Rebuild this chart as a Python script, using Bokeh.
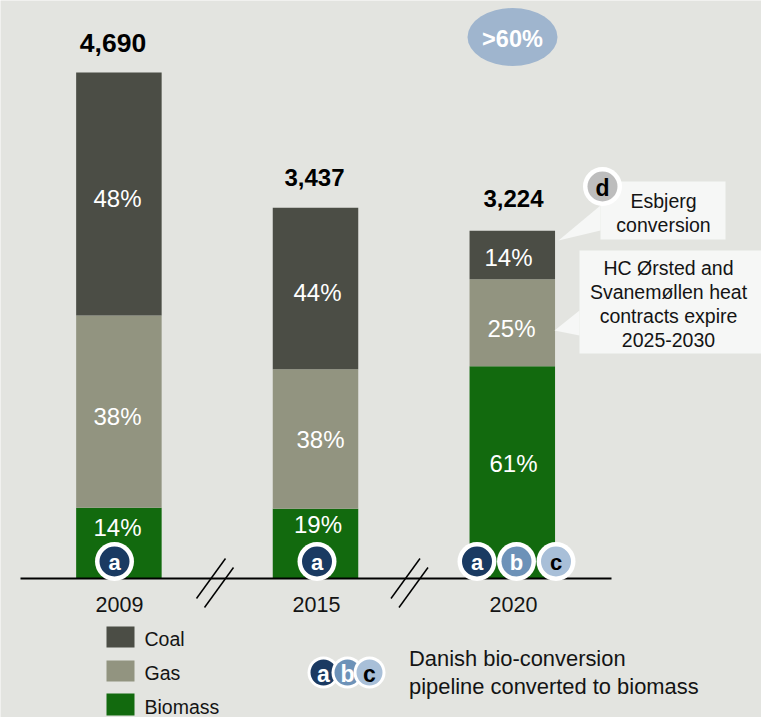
from bokeh.embed import file_html
from bokeh.models import ColumnDataSource, Range1d
from bokeh.plotting import figure
from bokeh.resources import INLINE
from bokeh.core.properties import value

# Heat generation by fuel
years = ["2009", "2015", "2020"]
totals = [4690, 3437, 3224]
total_labels = ["4,690", "3,437", "3,224"]
biomass_share = [14, 19, 61]
gas_share = [38, 38, 25]
coal_share = [48, 44, 14]

fuels = ["Coal", "Gas", "Biomass"]
callout_esbjerg = ["Esbjerg", "conversion"]
callout_contracts = ["HC Ørsted and", "Svanemøllen heat", "contracts expire", "2025-2030"]
pipeline_note = ["Danish bio-conversion", "pipeline converted to biomass"]

BG = "#E3E4E0"
COAL = "#4B4D45"
GAS = "#929480"
BIOMASS = "#126A0E"
NAVY = "#1A3A62"
MID_BLUE = "#6D92B8"
PALE_BLUE = "#A8BFD8"
GREY_BADGE = "#BDBDBD"
OVAL = "#9FB5CE"
NOTE = "#F6F7F6"
INK = "#141414"
FONT = value("Liberation Sans")

W, H = 761, 717
BASE_PX, TOP_PX = 578, 72
UNITS_PER_PX = max(totals) / (BASE_PX - TOP_PX)

p = figure(
    width=W, height=H, output_backend="svg", toolbar_location=None,
    x_range=Range1d(0, W),
    y_range=Range1d(-(H - BASE_PX) * UNITS_PER_PX, BASE_PX * UNITS_PER_PX),
    min_border=0, outline_line_color=None, background_fill_color=BG,
    border_fill_color=BG,
)
p.axis.visible = False
p.grid.visible = False
# Annotations are laid out on a top-down pixel scale sharing the same canvas.
p.extra_y_ranges = {"page": Range1d(H, 0)}

bar_x = [118.4, 315.0, 511.8]
BAR_W = 85.5

# Stacked bars: each segment is its share of the year's total.
bottoms = [0.0, 0.0, 0.0]
for shares, colour in ((biomass_share, BIOMASS), (gas_share, GAS), (coal_share, COAL)):
    tops = []
    for i, total in enumerate(totals):
        whole = biomass_share[i] + gas_share[i] + coal_share[i]
        tops.append(bottoms[i] + total * shares[i] / whole)
    src = ColumnDataSource(dict(x=bar_x, bottom=bottoms, top=tops))
    p.vbar(x="x", bottom="bottom", top="top", width=BAR_W, source=src,
           fill_color=colour, line_color=None)
    bottoms = tops


def label(x, y, text, size, colour=INK, style="normal", align="center"):
    p.text([x], [y], text=[text], y_range_name="page", text_font=FONT,
           text_font_size=f"{size}px", text_color=colour, text_font_style=style,
           text_align=align, text_baseline="middle")


def badge(x, y, letter, fill, ink="white", outer=19.5, inner=15, size=22):
    p.circle([x], [y], radius=outer, y_range_name="page", fill_color="white", line_color=None)
    p.circle([x], [y], radius=inner, y_range_name="page", fill_color=fill, line_color=None)
    label(x, y + 1, letter, size, ink, "bold")


# Baseline and axis breaks
p.line([20, 611], [578, 578], y_range_name="page", line_color="black", line_width=2)
for dx in (0, 194.5):
    p.line([196 + dx, 225 + dx], [598, 558], y_range_name="page", line_color="black", line_width=1.5)
    p.line([204 + dx, 233 + dx], [607, 567], y_range_name="page", line_color="black", line_width=1.5)

# Share labels inside the segments, per year: biomass, gas, coal
share_x = [[117, 117, 117], [317.5, 320, 317], [513, 511, 508]]
share_y = [[527, 416, 198], [524, 439, 292], [463, 328, 257]]
for i in range(3):
    for j, shares in enumerate((biomass_share, gas_share, coal_share)):
        label(share_x[i][j], share_y[i][j], f"{shares[i]}%", 24, "white")

# Totals and years
total_x = [112.5, 314, 513]
total_y = [42.5, 177, 198]
total_size = [26.5, 24, 24]
year_x = [119, 316, 513]
for i in range(3):
    label(total_x[i], total_y[i], total_labels[i], total_size[i], "black", "bold")
    label(year_x[i], 604, years[i], 21.5)

# Target oval
p.ellipse([512], [36.5], width=90, height=58, y_range_name="page", fill_color=OVAL, line_color=None)
label(512, 38, ">60%", 23.5, "white", "bold")

# Callouts
p.patch([600, 558, 600], [205, 240, 230], y_range_name="page", fill_color=NOTE, line_color=None)
p.quad(left=[600], right=[725], top=[181], bottom=[239], y_range_name="page", fill_color=NOTE, line_color=None)
for line, y in zip(callout_esbjerg, (200, 224)):
    label(663, y, line, 19.5)
p.patch([579, 554, 579], [310, 330, 335], y_range_name="page", fill_color=NOTE, line_color=None)
p.quad(left=[579], right=[761], top=[250], bottom=[353], y_range_name="page", fill_color=NOTE, line_color=None)
for line, y in zip(callout_contracts, (267, 291, 315, 339)):
    label(668, y, line, 19.5)
badge(602, 186, "d", GREY_BADGE, "black", size=23)

# Pipeline badges on the bars
badge(114, 561, "a", NAVY)
badge(316.5, 561, "a", NAVY)
badge(476.5, 561, "a", NAVY)
badge(516, 561, "b", MID_BLUE)
badge(555.5, 561, "c", PALE_BLUE, "black")

# Legend
swatch_tops = [626, 660, 693]
swatch_bottoms = [647, 681, 715]
for name, colour, top, bottom, y in zip(fuels, (COAL, GAS, BIOMASS), swatch_tops, swatch_bottoms, (638, 672, 706)):
    p.quad(left=[106], right=[134], top=[top], bottom=[bottom], y_range_name="page", fill_color=colour, line_color=None)
    label(144, y, name, 19.5, align="left")

badge(323, 672, "a", NAVY, outer=16, inner=13, size=23)
badge(347, 672, "b", MID_BLUE, outer=16, inner=13, size=23)
badge(369, 672, "c", PALE_BLUE, "black", outer=16, inner=13, size=23)
for line, y in zip(pipeline_note, (658, 686)):
    label(408.5, y, line, 21.9, align="left")

open("out.html", "w").write(file_html(p, INLINE))
